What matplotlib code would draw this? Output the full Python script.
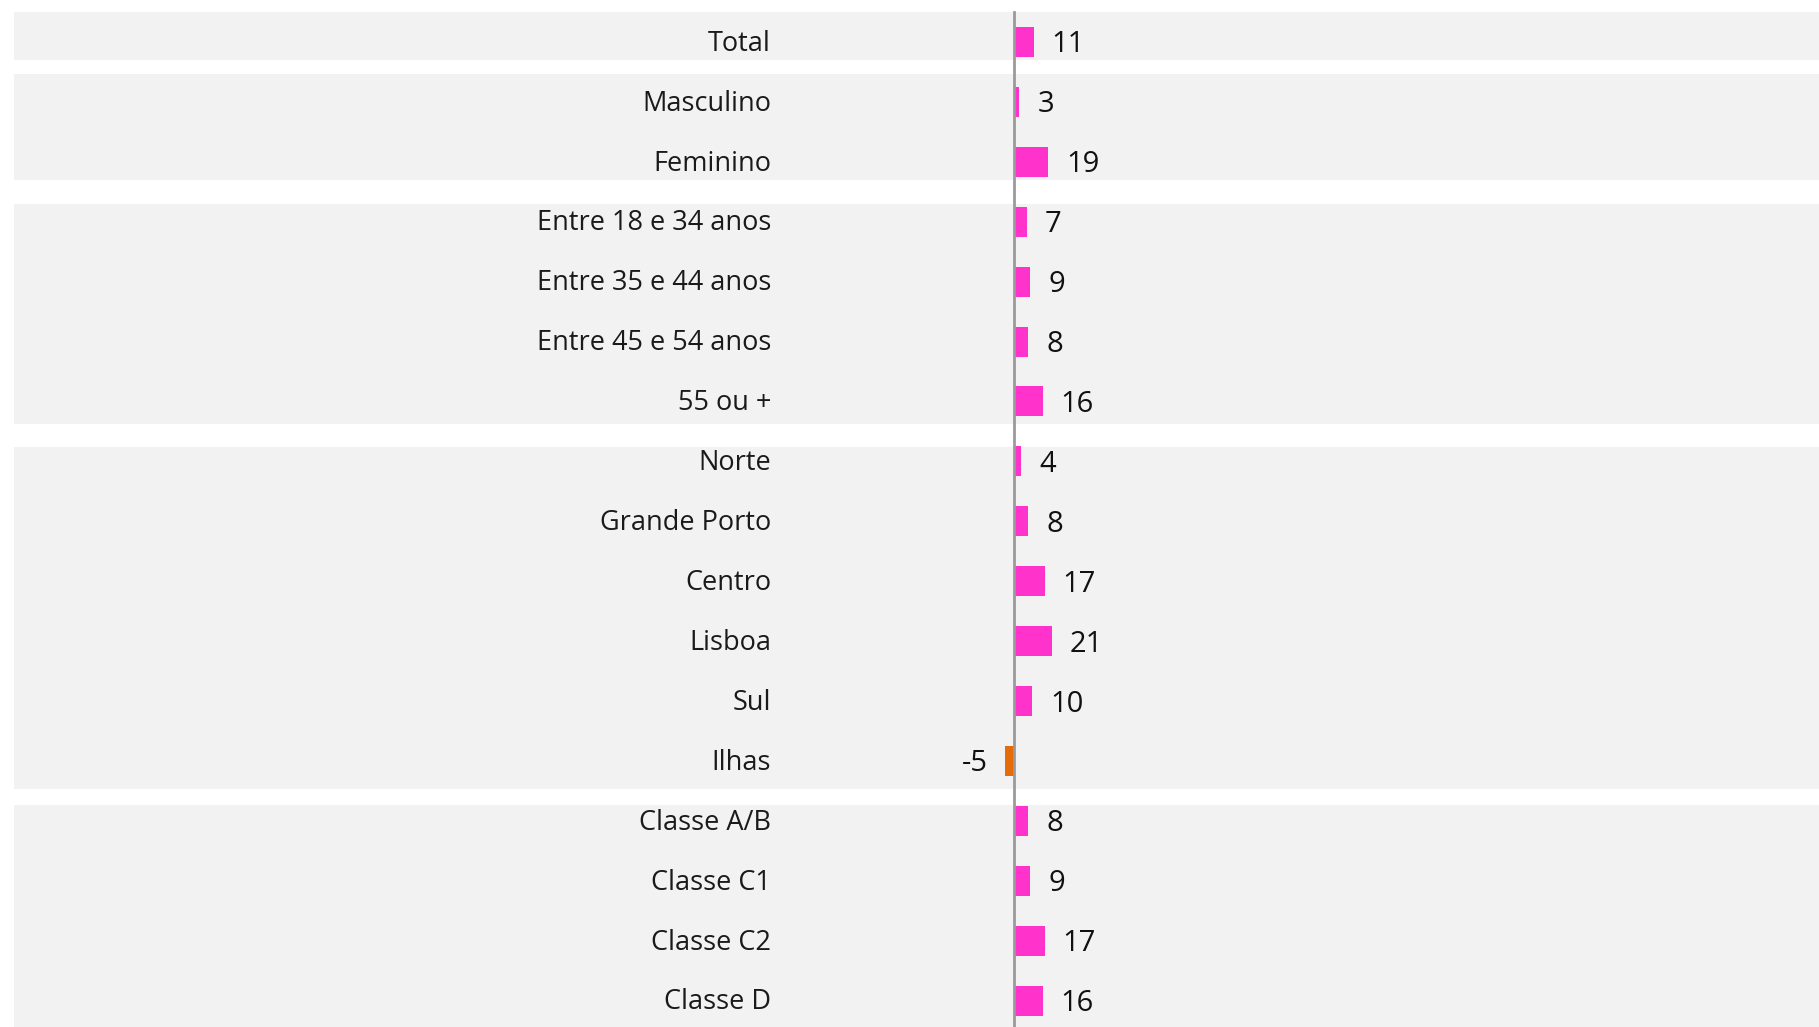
import matplotlib
matplotlib.use('Agg')
import matplotlib.pyplot as plt
import matplotlib.transforms as mtransforms

plt.rcParams['font.family'] = ['Open Sans', 'DejaVu Sans']

# categories, top to bottom
categories = ['Total',
              'Masculino', 'Feminino',
              'Entre 18 e 34 anos', 'Entre 35 e 44 anos', 'Entre 45 e 54 anos', '55 ou +',
              'Norte', 'Grande Porto', 'Centro', 'Lisboa', 'Sul', 'Ilhas',
              'Classe A/B', 'Classe C1', 'Classe C2', 'Classe D']
values = [11,
          3, 19,
          7, 9, 8, 16,
          4, 8, 17, 21, 10, -5,
          8, 9, 17, 16]
# number of rows in each group (shaded bands)
group_sizes = [1, 2, 4, 6, 4]

pink = '#FF33CC'
orange = '#E46C0A'
band = '#F2F2F2'

fig = plt.figure(figsize=(18.19, 10.27), dpi=100)
ax = fig.add_axes([0, 0, 1, 1])

n = len(categories)
ypos = list(range(n))

# grey bands behind each group (edges as seen in the original)
band_pad = [(0.50, 0.30), (0.47, 0.30), (0.30, 0.38), (0.24, 0.47), (0.26, 0.6)]
start = 0
for size, (top, bot) in zip(group_sizes, band_pad):
    ax.axhspan(start - top, start + size - 1 + bot, xmin=14 / 1819, xmax=1,
               color=band, lw=0, zorder=0)
    start += size

cols = [pink if v >= 0 else orange for v in values]
ax.barh(ypos, values, height=0.5, color=cols, zorder=2)

ax.axvline(0, color='#9A9A9A', lw=2, ymin=0, ymax=1 - 12 / 1027, zorder=3)

lbl_tr = mtransforms.blended_transform_factory(ax.transAxes, ax.transData)
for y, (c, v) in enumerate(zip(categories, values)):
    ax.text(771 / 1819, y + 0.03, c, transform=lbl_tr, ha='right', va='center',
            fontsize=19.5, color='#1A1A1A')
    if v >= 0:
        ax.text(v + 10, y + 0.05, str(v), ha='left', va='center',
                fontsize=21, color='#111111')
    else:
        ax.text(v - 9.5, y + 0.05, str(v), ha='right', va='center',
                fontsize=21, color='#111111')

ax.set_xlim(-1014 / 1.8, 805 / 1.8)
ax.set_ylim(16.44, -0.70)
ax.axis('off')

fig.savefig('out.png', dpi=100)
